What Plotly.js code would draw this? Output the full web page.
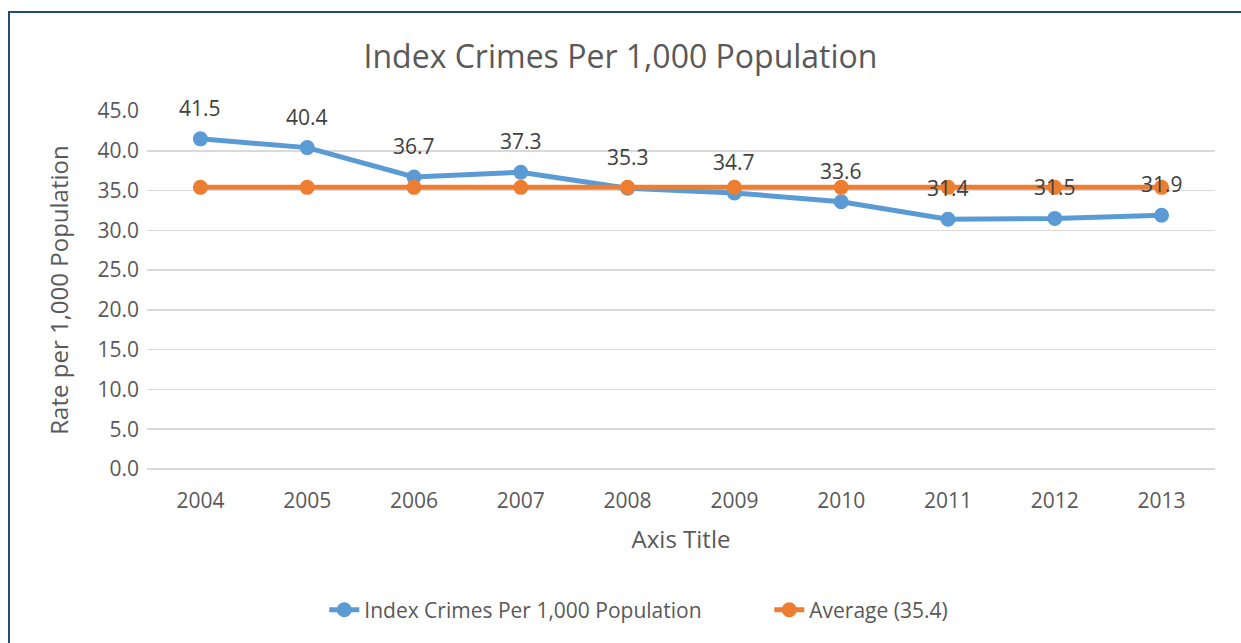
<!DOCTYPE html>
<html>
<head>
<meta charset="utf-8">
<script src="https://cdn.plot.ly/plotly-3.0.1.min.js"></script>
<style>
  html, body { margin: 0; padding: 0; background: #ffffff; }
  #wrap { position: relative; width: 1241px; height: 643px; overflow: hidden; }
  #chart { position: absolute; left: 0; top: 0; width: 1241px; height: 643px; }
  #frame { position: absolute; left: 8px; top: 11px; width: 1300px; height: 700px;
           border-left: 2px solid #1F4E79; border-top: 2px solid #1F4E79; pointer-events: none; }
</style>
</head>
<body>
<div id="wrap">
  <div id="chart"></div>
  <div id="frame"></div>
</div>
<script>
const years = ['2004','2005','2006','2007','2008','2009','2010','2011','2012','2013'];
const crimeRate = [41.5, 40.4, 36.7, 37.3, 35.3, 34.7, 33.6, 31.4, 31.5, 31.9];
const averageRate = [35.4, 35.4, 35.4, 35.4, 35.4, 35.4, 35.4, 35.4, 35.4, 35.4];
const yTicks = [0, 5, 10, 15, 20, 25, 30, 35, 40, 45];

const FONT = 'Open Sans, sans-serif';
const TXT = '#595959';

const traces = [
  {
    x: years, y: crimeRate, type: 'scatter', mode: 'lines+markers',
    name: 'Index Crimes Per 1,000 Population',
    line: { color: '#5B9BD5', width: 5 },
    marker: { color: '#5B9BD5', size: 15 }
  },
  {
    x: years, y: averageRate, type: 'scatter', mode: 'lines+markers',
    name: 'Average (35.4)',
    line: { color: '#ED7D31', width: 5 },
    marker: { color: '#ED7D31', size: 15 }
  }
];

const annotations = years.map((yr, i) => ({
  x: i, y: crimeRate[i], xref: 'x', yref: 'y',
  text: crimeRate[i].toFixed(1), showarrow: false,
  yshift: 31, font: { family: FONT, size: 21, color: '#404040' }
}));

const layout = {
  width: 1241, height: 643,
  margin: { l: 147, r: 26, t: 111, b: 174 },
  paper_bgcolor: '#ffffff', plot_bgcolor: '#ffffff',
  font: { family: FONT, color: TXT },
  title: {
    text: 'Index Crimes Per 1,000 Population',
    font: { family: FONT, size: 32, color: TXT },
    x: 0.5, xanchor: 'center', y: 0.911, yanchor: 'middle', xref: 'container', yref: 'container'
  },
  xaxis: {
    type: 'category', range: [-0.5, 9.5],
    showgrid: false, showline: false, ticks: '', zeroline: false,
    tickfont: { family: FONT, size: 21, color: TXT },
    ticklabelstandoff: 17,
    title: { text: 'Axis Title', font: { family: FONT, size: 24, color: TXT }, standoff: 18 }
  },
  yaxis: {
    range: [0, 45], tickvals: yTicks, ticktext: yTicks.map(v => v.toFixed(1)),
    showgrid: true, gridcolor: '#D9D9D9', gridwidth: 1.5,
    zeroline: true, zerolinecolor: '#D9D9D9', zerolinewidth: 1.5,
    showline: false, ticks: '',
    tickfont: { family: FONT, size: 21, color: TXT },
    ticklabelstandoff: 7,
    title: { text: 'Rate per 1,000 Population', font: { family: FONT, size: 24, color: TXT }, standoff: 22 }
  },
  legend: {
    orientation: 'h', x: 0.166, xanchor: 'left', y: -0.394, yanchor: 'middle',
    font: { family: FONT, size: 21, color: TXT }, entrywidth: 400, entrywidthmode: 'pixels'
  },
  annotations: annotations,
  showlegend: true
};

Plotly.newPlot('chart', traces, layout, { displayModeBar: false, staticPlot: true });
</script>
</body>
</html>
